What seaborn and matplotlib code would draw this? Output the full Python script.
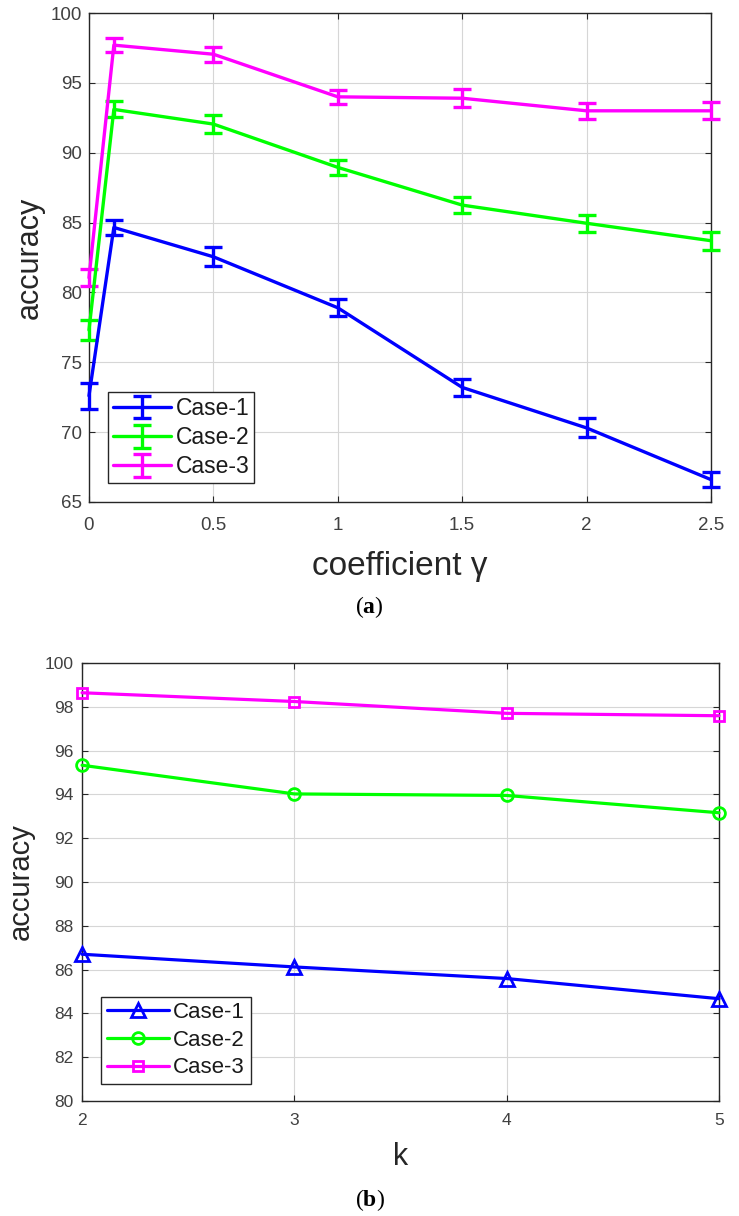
import numpy as np
import pandas as pd
import matplotlib
matplotlib.use("Agg")
import matplotlib.pyplot as plt
import seaborn as sns

# ---------------- data ----------------
cases = ["Case-1", "Case-2", "Case-3"]

gamma = [0, 0.1, 0.5, 1, 1.5, 2, 2.5]
acc_a_case1 = [72.6, 84.65, 82.55, 78.9, 73.2, 70.3, 66.6]
acc_a_case2 = [77.3, 93.1, 92.05, 88.95, 86.25, 84.95, 83.7]
acc_a_case3 = [81.05, 97.7, 97.05, 94.0, 93.9, 93.0, 93.0]
err_a_case1 = [0.95, 0.54, 0.69, 0.62, 0.63, 0.68, 0.54]
err_a_case2 = [0.74, 0.57, 0.62, 0.56, 0.60, 0.60, 0.63]
err_a_case3 = [0.62, 0.52, 0.54, 0.50, 0.63, 0.56, 0.60]
xticks_a = [0, 0.5, 1, 1.5, 2, 2.5]
xticklabels_a = ["0", "0.5", "1", "1.5", "2", "2.5"]
yticks_a = [65, 70, 75, 80, 85, 90, 95, 100]

k_vals = [2, 3, 4, 5]
acc_b_case1 = [86.7, 86.12, 85.59, 84.67]
acc_b_case2 = [95.33, 94.02, 93.95, 93.16]
acc_b_case3 = [98.64, 98.24, 97.7, 97.59]
yticks_b = [80, 82, 84, 86, 88, 90, 92, 94, 96, 98, 100]

colors = {"Case-1": (0, 0, 1), "Case-2": (0, 1, 0), "Case-3": (1, 0, 1)}
markers = {"Case-1": "^", "Case-2": "o", "Case-3": "s"}

# ---------------- style ----------------
sns.set_theme(style="ticks")
plt.rcParams["font.family"] = ["Liberation Sans", "DejaVu Sans"]
plt.rcParams["mathtext.fontset"] = "custom"
plt.rcParams["mathtext.rm"] = "Liberation Serif"
plt.rcParams["mathtext.bf"] = "Liberation Serif:bold"

TICKC = "#404040"
LABC = "#262626"
GRIDC = "#d6d6d6"

fig = plt.figure(figsize=(7.39, 12.16), dpi=100)
ax_a = fig.add_axes([0.1204, 0.5872, 0.8417, 0.4021])
ax_b = fig.add_axes([0.1110, 0.0946, 0.8619, 0.3602])


def style_axes(ax, fs, pad_x, pad_y):
    for s in ax.spines.values():
        s.set_color("#262626")
        s.set_linewidth(1.0)
    ax.tick_params(axis="both", direction="in", length=4, width=0.8,
                   colors="#262626", labelcolor=TICKC, labelsize=fs,
                   top=True, right=True)
    ax.tick_params(axis="x", pad=pad_x)
    ax.tick_params(axis="y", pad=pad_y)
    ax.grid(True, color=GRIDC, linewidth=0.8)
    ax.set_axisbelow(True)


# ---------------- panel (a) ----------------
series_a = [(acc_a_case1, err_a_case1), (acc_a_case2, err_a_case2), (acc_a_case3, err_a_case3)]
for name, (vals, errs) in zip(cases, series_a):
    eb = ax_a.errorbar(gamma, vals, yerr=errs, fmt="-", color=colors[name],
                       linewidth=2.4, elinewidth=2.4, capsize=6.5, capthick=2.4,
                       label=name, zorder=3)
    for art in eb.lines[0:1] + tuple(eb.lines[1]) + tuple(eb.lines[2]):
        art.set_clip_on(False)

ax_a.set_xlim(0, 2.5)
ax_a.set_ylim(65, 100)
ax_a.set_xticks(xticks_a)
ax_a.set_xticklabels(xticklabels_a)
ax_a.set_yticks(yticks_a)
style_axes(ax_a, 13.5, 11, 5)
ax_a.set_xlabel("coefficient γ", fontsize=24, color=LABC, va="baseline")
ax_a.xaxis.set_label_coords(0.5, -0.149)
ax_a.set_ylabel("accuracy", fontsize=22, color=LABC, ha="center", va="center")
ax_a.yaxis.set_label_coords(-0.0957, 0.5)

leg_a = ax_a.legend(loc="lower left", bbox_to_anchor=(0.0305, 0.0389),
                    borderaxespad=0, fontsize=16.5, frameon=True, fancybox=False,
                    edgecolor="#262626", framealpha=1, handlelength=2.55,
                    handletextpad=0.2, labelspacing=0.27, borderpad=0.2)
leg_a.get_frame().set_linewidth(1.0)
for t in leg_a.get_texts():
    t.set_color("#1a1a1a")

# ---------------- panel (b) ----------------
df_b = pd.DataFrame({
    "k": k_vals * 3,
    "accuracy": acc_b_case1 + acc_b_case2 + acc_b_case3,
    "case": [c for c in cases for _ in k_vals],
})
sns.lineplot(data=df_b, x="k", y="accuracy", hue="case", style="case",
             hue_order=cases, style_order=cases, palette=colors,
             markers=markers, dashes=False, linewidth=2.3, legend=False,
             ax=ax_b, zorder=3)
msizes = {"Case-1": 9.5, "Case-2": 8.5, "Case-3": 6.5}
lines_b = ax_b.lines[:3]
for ln, name in zip(lines_b, cases):
    ln.set_markerfacecolor("none")
    ln.set_markeredgecolor(colors[name])
    ln.set_markeredgewidth(2.0)
    ln.set_markersize(msizes[name])
    ln.set_clip_on(False)

ax_b.set_xlim(2, 5)
ax_b.set_ylim(80, 100)
ax_b.set_xticks(k_vals)
ax_b.set_yticks(yticks_b)
style_axes(ax_b, 12.5, 9, 6)
ax_b.set_xlabel("k", fontsize=22, color=LABC, va="baseline")
ax_b.xaxis.set_label_coords(0.5, -0.146)
ax_b.set_ylabel("accuracy", fontsize=21, color=LABC, ha="center", va="center")
ax_b.yaxis.set_label_coords(-0.096, 0.5)

leg_b = ax_b.legend(handles=lines_b, labels=cases, loc="lower left",
                    bbox_to_anchor=(0.0298, 0.0388), borderaxespad=0,
                    fontsize=16, frameon=True, fancybox=False,
                    edgecolor="#262626", framealpha=1, handlelength=2.8,
                    handletextpad=0.2, labelspacing=0.3, borderpad=0.25)
leg_b.get_frame().set_linewidth(1.0)
for t in leg_b.get_texts():
    t.set_color("#1a1a1a")

# ---------------- captions ----------------
fig.text(0.5, 1 - 613 / 1216, r"($\mathbf{a}$)", ha="center", va="baseline",
         fontsize=17, family="Liberation Serif", color="black")
fig.text(0.5, 1 - 1206 / 1216, r"($\mathbf{b}$)", ha="center", va="baseline",
         fontsize=17, family="Liberation Serif", color="black")

fig.savefig("out.png", dpi=100)
